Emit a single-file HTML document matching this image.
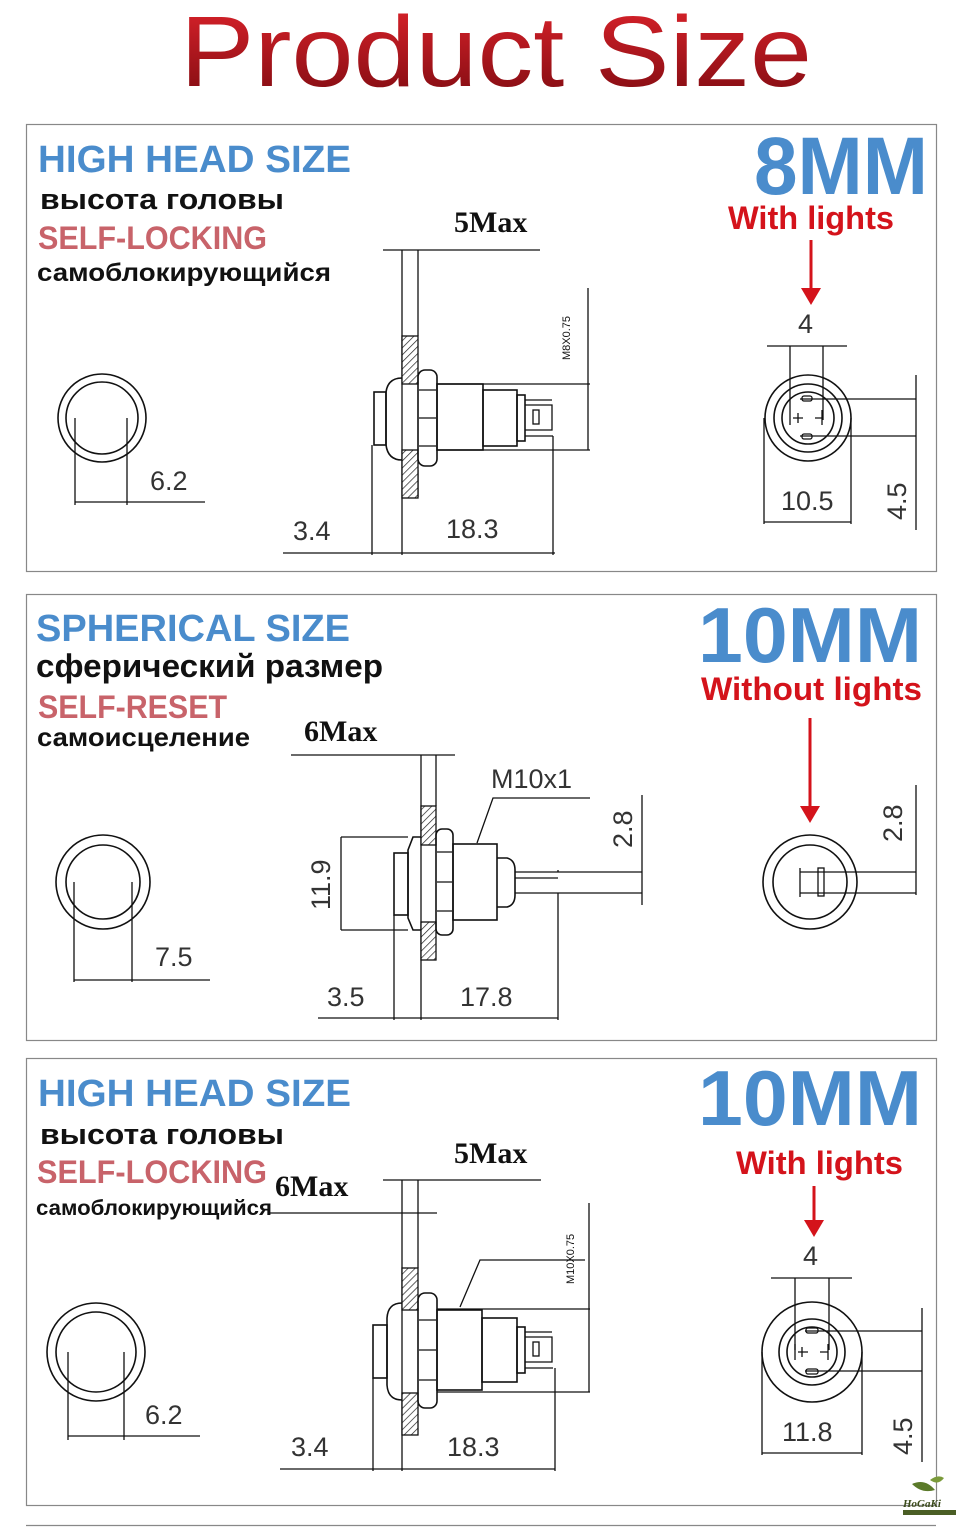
<!DOCTYPE html>
<html><head><meta charset="utf-8"><style>
html,body{margin:0;padding:0;background:#fff;}
svg{display:block;}
.h{font-family:"Liberation Sans","DejaVu Sans",sans-serif;font-weight:bold;}
.bl{fill:#4a8ccc;}
.rs{fill:#c8636a;}
.rd{fill:#d4131b;}
.bk{fill:#111;}
.dim{font-family:"Liberation Sans",sans-serif;font-size:27px;fill:#333;}
.mx{font-family:"Liberation Serif",serif;font-weight:bold;font-size:30px;fill:#111;}
.ln{stroke:#111;stroke-width:1.6;fill:none;}
.th{stroke:#111;stroke-width:1.3;fill:none;}
</style></head><body>
<svg width="960" height="1531" viewBox="0 0 960 1531" xmlns="http://www.w3.org/2000/svg">
<defs>
<linearGradient id="tg" x1="0" y1="0" x2="0" y2="1">
<stop offset="0" stop-color="#e0242c"/><stop offset="1" stop-color="#7a0a10"/>
</linearGradient>
<pattern id="hat" width="5" height="5" patternUnits="userSpaceOnUse" patternTransform="rotate(45)">
<rect width="5" height="5" fill="#fff"/><line x1="0" y1="0" x2="0" y2="5" stroke="#222" stroke-width="1.4"/>
</pattern>
</defs>
<rect width="960" height="1531" fill="#fff"/>
<text x="180" y="86" font-family="Liberation Sans,sans-serif" font-size="100" fill="url(#tg)" textLength="632" lengthAdjust="spacingAndGlyphs">Product Size</text>

<!-- panel frames -->
<rect x="26.5" y="124.5" width="910" height="447" fill="none" stroke="#888" stroke-width="1.2"/>
<rect x="26.5" y="594.5" width="910" height="446" fill="none" stroke="#888" stroke-width="1.2"/>
<rect x="26.5" y="1058.5" width="910" height="447" fill="none" stroke="#888" stroke-width="1.2"/>
<line x1="26" y1="1525.5" x2="936" y2="1525.5" stroke="#888" stroke-width="1.2"/>

<!-- ===== PANEL 1 text ===== -->
<text class="h bl" x="38" y="172" font-size="38" textLength="313" lengthAdjust="spacingAndGlyphs">HIGH HEAD SIZE</text>
<text class="h bk" x="40" y="209" font-size="29" textLength="244" lengthAdjust="spacingAndGlyphs">высота головы</text>
<text class="h rs" x="38" y="249" font-size="32" textLength="229" lengthAdjust="spacingAndGlyphs">SELF-LOCKING</text>
<text class="h bk" x="37" y="281" font-size="25" textLength="294" lengthAdjust="spacingAndGlyphs">самоблокирующийся</text>
<text class="h bl" x="754" y="194" font-size="82" textLength="174" lengthAdjust="spacingAndGlyphs">8MM</text>
<text class="h rd" x="728" y="229" font-size="32" textLength="166" lengthAdjust="spacingAndGlyphs">With lights</text>
<line x1="811" y1="240" x2="811" y2="290" stroke="#d4131b" stroke-width="3"/>
<polygon points="801,288 821,288 811,305" fill="#d4131b"/>

<!-- P1 left circle -->
<circle class="ln" cx="102" cy="418" r="44"/>
<circle class="ln" cx="102" cy="418" r="36"/>
<path class="th" d="M75 418V505M127 418V505M75 502H205"/>
<text class="dim" x="150" y="490">6.2</text>

<!-- P1 side -->
<g>
<text class="mx" x="454" y="232">5Max</text>
<path class="th" d="M383 250H540M402 250V555M418 250V336M418 497V470"/>
<rect x="402" y="336" width="16" height="48" fill="url(#hat)" stroke="#111" stroke-width="1.3"/>
<rect x="402" y="450" width="16" height="48" fill="url(#hat)" stroke="#111" stroke-width="1.3"/>
<path class="ln" d="M402 378Q388 378 386 392V445Q388 460 402 460"/>
<rect class="ln" x="374" y="392" width="12" height="53"/>
<rect class="ln" x="418" y="370" width="19" height="96" rx="7"/>
<path class="th" d="M419 390H436M419 418H436M419 446H436"/>
<rect class="ln" x="437" y="384" width="46" height="66"/>
<rect class="ln" x="483" y="390" width="34" height="56"/>
<rect class="ln" x="517" y="395" width="8" height="46"/>
<path class="th" d="M525 400H552M525 436H553M525 405H552V430H525"/>
<rect class="th" x="533" y="410" width="6" height="14"/>
<path class="th" d="M437 384H590M437 450H590M588 288V450"/>
<text font-family="Liberation Sans,sans-serif" font-size="11" fill="#111" transform="translate(570,360) rotate(-90)">M8X0.75</text>
<path class="th" d="M283 553H555M372 445V555M553 436V555"/>
<text class="dim" x="293" y="540">3.4</text>
<text class="dim" x="446" y="538">18.3</text>
</g>

<!-- P1 right -->
<text class="dim" x="798" y="333">4</text>
<circle class="ln" cx="808" cy="418" r="43"/>
<circle class="ln" cx="808" cy="418" r="34"/>
<circle class="ln" cx="808" cy="418" r="26"/>
<path class="th" d="M767 346H847M790 346V410M823 346V420M764 418V524M851 418V524M764 522H851"/>
<path class="th" d="M800 399H916M800 436H916M916 375V530"/>
<rect class="th" x="802" y="396" width="10" height="5" rx="2"/>
<rect class="th" x="802" y="434" width="10" height="5" rx="2"/>
<path class="th" d="M790 410V425M793 418H803M798 413V423M815 418H822M822 410V425"/>
<text class="dim" x="781" y="510">10.5</text>
<text class="dim" transform="translate(906,520) rotate(-90)">4.5</text>

<!-- ===== PANEL 2 ===== -->
<text class="h bl" x="36" y="641" font-size="38" textLength="314" lengthAdjust="spacingAndGlyphs">SPHERICAL SIZE</text>
<text class="h bk" x="36" y="677" font-size="32" textLength="347" lengthAdjust="spacingAndGlyphs">сферический размер</text>
<text class="h rs" x="38" y="718" font-size="32" textLength="189" lengthAdjust="spacingAndGlyphs">SELF-RESET</text>
<text class="h bk" x="37" y="746" font-size="26" textLength="213" lengthAdjust="spacingAndGlyphs">самоисцеление</text>
<text class="h bl" x="698" y="662" font-size="78" textLength="224" lengthAdjust="spacingAndGlyphs">10MM</text>
<text class="h rd" x="701" y="700" font-size="32" textLength="221" lengthAdjust="spacingAndGlyphs">Without lights</text>
<line x1="810" y1="718" x2="810" y2="808" stroke="#d4131b" stroke-width="3"/>
<polygon points="800,806 820,806 810,823" fill="#d4131b"/>

<circle class="ln" cx="103" cy="882" r="47"/>
<circle class="ln" cx="103" cy="882" r="37"/>
<path class="th" d="M74 882V982M132 882V982M74 980H210"/>
<text class="dim" x="155" y="966">7.5</text>

<text class="mx" x="304" y="741">6Max</text>
<path class="th" d="M291 755H455M421 755V1020M436 755V806"/>
<rect x="421" y="806" width="15" height="39" fill="url(#hat)" stroke="#111" stroke-width="1.3"/>
<rect x="421" y="922" width="15" height="38" fill="url(#hat)" stroke="#111" stroke-width="1.3"/>
<path class="ln" d="M421 837H413L408 850V918L413 930H421"/>
<rect class="ln" x="394" y="853" width="14" height="62"/>
<rect class="ln" x="436" y="829" width="17" height="106" rx="6"/>
<path class="th" d="M437 852H452M437 882H452M437 911H452"/>
<rect class="ln" x="453" y="844" width="44" height="76"/>
<path class="ln" d="M497 858H507Q515 860 515 870V895Q515 905 507 907H497"/>
<path class="th" d="M515 872H558M515 893H558M558 872V870M515 878H558"/>
<path class="th" d="M558 872H642M558 893H642M642 795V905"/>
<text class="dim" transform="translate(632,848) rotate(-90)">2.8</text>
<path class="th" d="M341 837V930M341 837H408M341 930H408"/>
<text class="dim" transform="translate(330,910) rotate(-90)">11.9</text>
<text class="dim" x="491" y="788">M10x1</text>
<path class="th" d="M590 798H493L477 843"/>
<path class="th" d="M318 1018H558M394 915V1020M558 893V1020"/>
<text class="dim" x="327" y="1006">3.5</text>
<text class="dim" x="460" y="1006">17.8</text>

<circle class="ln" cx="810" cy="882" r="47"/>
<circle class="ln" cx="810" cy="882" r="37"/>
<path class="th" d="M800 872H916M800 893H916M916 785V895M800 868V897"/>
<rect class="th" x="818" y="868" width="6" height="28"/>
<text class="dim" transform="translate(902,842) rotate(-90)">2.8</text>

<!-- ===== PANEL 3 ===== -->
<text class="h bl" x="38" y="1106" font-size="38" textLength="313" lengthAdjust="spacingAndGlyphs">HIGH HEAD SIZE</text>
<text class="h bk" x="40" y="1144" font-size="29" textLength="244" lengthAdjust="spacingAndGlyphs">высота головы</text>
<text class="h rs" x="37" y="1183" font-size="32" textLength="230" lengthAdjust="spacingAndGlyphs">SELF-LOCKING</text>
<text class="h bk" x="36" y="1215" font-size="21" textLength="236" lengthAdjust="spacingAndGlyphs">самоблокирующийся</text>
<text class="h bl" x="698" y="1125" font-size="78" textLength="224" lengthAdjust="spacingAndGlyphs">10MM</text>
<text class="h rd" x="736" y="1174" font-size="32" textLength="167" lengthAdjust="spacingAndGlyphs">With lights</text>
<line x1="814" y1="1186" x2="814" y2="1222" stroke="#d4131b" stroke-width="3"/>
<polygon points="804,1220 824,1220 814,1237" fill="#d4131b"/>

<circle class="ln" cx="96" cy="1352" r="49"/>
<circle class="ln" cx="96" cy="1352" r="40"/>
<path class="th" d="M68 1352V1440M124 1352V1440M68 1436H200"/>
<text class="dim" x="145" y="1424">6.2</text>

<text class="mx" x="454" y="1163">5Max</text>
<text class="mx" x="275" y="1196">6Max</text>
<path class="th" d="M383 1180H541M270 1213H437M402 1180V1471M418 1180V1268"/>
<rect x="402" y="1268" width="16" height="42" fill="url(#hat)" stroke="#111" stroke-width="1.3"/>
<rect x="402" y="1393" width="16" height="42" fill="url(#hat)" stroke="#111" stroke-width="1.3"/>
<path class="ln" d="M402 1303Q388 1303 387 1318V1385Q388 1400 402 1400"/>
<rect class="ln" x="373" y="1325" width="14" height="53"/>
<rect class="ln" x="418" y="1293" width="19" height="115" rx="7"/>
<path class="th" d="M419 1320H436M419 1350H436M419 1380H436"/>
<rect class="ln" x="437" y="1310" width="45" height="80"/>
<rect class="ln" x="482" y="1318" width="35" height="64"/>
<rect class="ln" x="517" y="1327" width="8" height="46"/>
<path class="th" d="M525 1332H552M525 1368H553M525 1337H552V1362H525"/>
<rect class="th" x="533" y="1342" width="6" height="14"/>
<path class="th" d="M437 1309H590M437 1392H590M589 1203V1392"/>
<text font-family="Liberation Sans,sans-serif" font-size="11" fill="#111" transform="translate(574,1284) rotate(-90)">M10X0.75</text>
<path class="th" d="M585 1260H480L460 1307"/>
<path class="th" d="M280 1469H555M373 1378V1471M555 1368V1471"/>
<text class="dim" x="291" y="1456">3.4</text>
<text class="dim" x="447" y="1456">18.3</text>

<text class="dim" x="803" y="1265">4</text>
<circle class="ln" cx="812" cy="1352" r="50"/>
<circle class="ln" cx="812" cy="1352" r="33"/>
<circle class="ln" cx="812" cy="1352" r="25"/>
<path class="th" d="M771 1278H852M795 1278V1350M829 1278V1350M762 1352V1455M862 1352V1455M762 1453H862"/>
<path class="th" d="M805 1331H922M805 1371H922M922 1308V1462"/>
<rect class="th" x="806" y="1328" width="12" height="5" rx="2"/>
<rect class="th" x="806" y="1369" width="12" height="5" rx="2"/>
<path class="th" d="M795 1344V1360M798 1352H808M802 1347V1357M820 1352H828M828 1344V1360"/>
<text class="dim" x="782" y="1441">11.8</text>
<text class="dim" transform="translate(912,1455) rotate(-90)">4.5</text>

<!-- logo -->
<path d="M912 1484Q925 1478 935 1490Q922 1494 912 1484Z" fill="#5b7a2a"/>
<path d="M930 1480Q938 1474 944 1478Q938 1486 930 1480Z" fill="#7a9a3a"/>
<text x="903" y="1507" font-family="Liberation Serif,serif" font-style="italic" font-weight="bold" font-size="11" fill="#3a4a1a">HoGaKi</text>
<rect x="903" y="1510" width="53" height="5" fill="#4a5e25"/>
</svg>
</body></html>
